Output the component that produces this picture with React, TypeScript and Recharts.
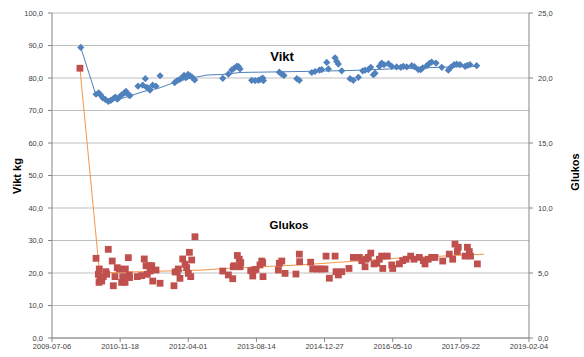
import { ComposedChart, Scatter, XAxis, YAxis, CartesianGrid } from 'recharts';

// dates are Excel day serials (40000 = 2009-07-06)
const dateTicks = ['2009-07-06', '2010-11-18', '2012-04-01', '2013-08-14', '2014-12-27', '2016-05-10', '2017-09-22', '2019-02-04'];
const viktTicks = [0, 10, 20, 30, 40, 50, 60, 70, 80, 90, 100];
const glukosTicks = [0, 5, 10, 15, 20, 25];

const viktDates = [
  40211, 40323, 40343, 40357, 40372, 40391, 40413, 40431, 40450, 40465, 40479, 40494, 40511, 40531, 40543, 40563,
  40572, 40631, 40666, 40685, 40695, 40710, 40719, 40739, 40763, 40793, 40900, 40919, 40939, 40954, 40969, 40983,
  40998, 41013, 41027, 41047, 41253, 41294, 41319, 41336, 41355, 41367, 41380, 41465, 41490, 41514, 41531, 41546,
  41551, 41668, 41686, 41702, 41796, 41815, 41906, 41930, 41962, 41979, 42016, 42028, 42077, 42089, 42101, 42126,
  42187, 42211, 42248, 42280, 42297, 42321, 42339, 42358, 42370, 42402, 42419, 42436, 42468, 42493, 42529, 42559,
  42578, 42603, 42640, 42659, 42688, 42706, 42720, 42750, 42769, 42786, 42818, 42860, 42908, 42926, 42950, 42970,
  42994, 43031, 43048, 43067, 43116,
];
const viktValues = [
  89.4, 75.0, 75.4, 74.8, 73.9, 73.4, 72.8, 73.1, 73.7, 74.1, 73.5, 74.1, 74.8, 75.4, 75.9, 74.8,
  74.6, 77.5, 77.8, 79.8, 77.1, 76.8, 76.3, 77.8, 77.5, 80.7, 78.6, 79.2, 79.6, 80.1, 80.8, 80.1,
  81.1, 80.7, 80.3, 79.4, 79.9, 81.2, 82.5, 83.0, 83.6, 83.6, 82.8, 79.3, 79.2, 79.3, 79.6, 80.0,
  79.2, 81.8, 81.2, 80.8, 79.8, 79.3, 81.7, 82.0, 82.4, 82.6, 84.8, 82.8, 86.2, 85.1, 84.3, 82.2,
  79.8, 79.3, 80.2, 82.2, 82.4, 82.6, 83.3, 81.0, 81.5, 83.6, 84.6, 84.1, 84.4, 83.6, 83.4, 83.3,
  83.6, 83.4, 83.8, 83.5, 82.6, 82.6, 83.1, 83.8, 84.5, 84.9, 84.6, 83.3, 82.4, 83.3, 84.1, 84.3,
  84.1, 83.6, 83.9, 84.1, 83.8,
];

const glukosDates = [
  40205, 40323, 40347, 40340, 40352, 40345, 40365, 40376, 40396, 40413, 40401, 40442, 40450, 40462, 40479, 40494,
  40519, 40511, 40536, 40538, 40560, 40567, 40569, 40626, 40658, 40677, 40690, 40699, 40714, 40732, 40719, 40739,
  40763, 40793, 40895, 40903, 40927, 40919, 40939, 40959, 40976, 40988, 41000, 41008, 41025, 41018, 41049, 41253,
  41294, 41326, 41330, 41336, 41360, 41374, 41385, 41380, 41458, 41473, 41482, 41497, 41526, 41539, 41546, 41548,
  41661, 41668, 41686, 41710, 41790, 41815, 41817, 41898, 41913, 41947, 41972, 42003, 42011, 42035, 42077, 42084,
  42101, 42126, 42179, 42211, 42255, 42273, 42297, 42304, 42321, 42339, 42363, 42383, 42402, 42419, 42427, 42460,
  42493, 42500, 42549, 42573, 42598, 42632, 42656, 42695, 42725, 42737, 42761, 42786, 42810, 42867, 42915, 42940,
  42957, 42981, 42974, 43031, 43048, 43062, 43071, 43121,
];
const glukosValues = [
  20.75, 6.13, 5.31, 4.9, 4.59, 4.28, 4.38, 4.72, 5.1, 6.82, 4.9, 5.92, 4.02, 4.72, 5.41, 5.31,
  4.72, 4.28, 4.28, 5.31, 6.18, 4.85, 4.65, 4.72, 4.8, 6.08, 5.56, 4.9, 5.56, 5.56, 5.15, 4.38,
  5.23, 4.21, 4.02, 5.08, 5.31, 5.1, 4.59, 6.08, 5.67, 5.41, 4.97, 6.59, 6.0, 4.72, 7.79, 5.15,
  4.85, 4.56, 5.48, 5.56, 6.35, 6.06, 5.8, 5.48, 5.18, 4.77, 5.23, 5.28, 5.62, 5.92, 5.8, 4.72,
  5.23, 5.75, 5.92, 4.97, 4.92, 6.45, 5.87, 5.83, 5.31, 5.31, 5.31, 5.31, 6.3, 4.6, 6.3, 5.1,
  4.85, 5.1, 5.35, 6.2, 6.2, 5.95, 5.48, 6.06, 6.2, 6.53, 5.7, 5.75, 6.06, 6.3, 5.35, 6.3,
  5.62, 5.35, 5.7, 5.95, 6.06, 6.3, 6.06, 6.2, 5.95, 5.7, 6.06, 6.2, 6.2, 5.92, 6.45, 6.06,
  7.22, 6.98, 6.65, 6.3, 6.98, 6.65, 6.3, 5.7,
];

// trendlines as drawn in the picture
const viktTrendDates = [40211, 40316, 40364, 40413, 40536, 40668, 40793, 40915, 41037, 41135, 41255, 41380, 41820, 42187, 42554, 42847, 43119];
const viktTrendValues = [89.4, 75.6, 73.8, 72.8, 74.0, 75.8, 77.0, 78.9, 80.1, 80.9, 81.1, 81.7, 82.0, 82.3, 82.9, 83.3, 83.6];
const glukosTrendDates = [40205, 40349, 40572, 41086, 41306, 41820, 42554, 43170];
const glukosTrendValues = [20.75, 5.0, 5.08, 5.22, 5.37, 5.62, 6.15, 6.45];

const toSerial = (iso: string) => Math.round((Date.parse(iso) - Date.UTC(1899, 11, 30)) / 864e5);
const fromSerial = (n: number) => new Date(Date.UTC(1899, 11, 30) + n * 864e5).toISOString().slice(0, 10);
const comma = (v: number) => v.toFixed(1).replace('.', ',');
const pairs = (xs: number[], ys: number[]) => xs.map((x, i) => ({ x, y: ys[i] }));

const viktData = pairs(viktDates, viktValues);
const glukosData = pairs(glukosDates, glukosValues);
const viktTrend = pairs(viktTrendDates, viktTrendValues);
const glukosTrend = pairs(glukosTrendDates, glukosTrendValues);

const BLUE = '#4F81BD';
const RED = '#C0504D';
const ORANGE = '#F79646';
const tickStyle = { fontSize: 7.5, fill: '#404040', fontFamily: 'Liberation Sans, Arial, sans-serif' };

function Diamond(props: any) {
  const { cx, cy } = props;
  const r = 3.6;
  return <polygon points={`${cx},${cy - r} ${cx + r},${cy} ${cx},${cy + r} ${cx - r},${cy}`} fill={BLUE} />;
}

function Square(props: any) {
  const { cx, cy } = props;
  return <rect x={cx - 3.4} y={cy - 3.4} width={6.8} height={6.8} fill={RED} />;
}

const noShape = () => <g />;

export default function App() {
  return (
    <div style={{ position: 'relative', width: 584, height: 357, fontFamily: 'Liberation Sans, Arial, sans-serif' }}>
      <style>{'body{margin:0}'}</style>
      <ComposedChart width={584} height={357} margin={{ top: 13, right: 0, bottom: 0, left: 0 }}>
        <CartesianGrid yAxisId="left" vertical={false} stroke="#BFBFBF" />
        <XAxis
          type="number"
          dataKey="x"
          domain={[toSerial(dateTicks[0]), toSerial(dateTicks[dateTicks.length - 1])]}
          ticks={dateTicks.map(toSerial)}
          tickFormatter={fromSerial}
          interval={0}
          height={19}
          stroke="#868686"
          tick={tickStyle}
          tickSize={4}
          tickMargin={2}
        />
        <YAxis
          yAxisId="left"
          type="number"
          dataKey="y"
          domain={[0, 100]}
          ticks={viktTicks}
          tickFormatter={comma}
          interval={0}
          width={52}
          stroke="#868686"
          tick={tickStyle}
          tickSize={4}
          tickMargin={5}
        />
        <YAxis
          yAxisId="right"
          orientation="right"
          type="number"
          dataKey="y"
          domain={[0, 25]}
          ticks={glukosTicks}
          tickFormatter={comma}
          interval={0}
          width={55}
          stroke="#868686"
          tick={tickStyle}
          tickSize={4}
          tickMargin={5}
        />
        <Scatter yAxisId="left" data={viktTrend} line={{ stroke: BLUE, strokeWidth: 1 }} shape={noShape} isAnimationActive={false} />
        <Scatter yAxisId="right" data={glukosTrend} line={{ stroke: ORANGE, strokeWidth: 1 }} shape={noShape} isAnimationActive={false} />
        <Scatter yAxisId="left" data={viktData} shape={Diamond} isAnimationActive={false} />
        <Scatter yAxisId="right" data={glukosData} shape={Square} isAnimationActive={false} />
      </ComposedChart>
      <div style={{ position: 'absolute', left: 17, top: 176, transform: 'translate(-50%,-50%) rotate(-90deg)', fontSize: 11, fontWeight: 'bold', whiteSpace: 'nowrap', color: '#000' }}>
        Vikt kg
      </div>
      <div style={{ position: 'absolute', left: 575, top: 172, transform: 'translate(-50%,-50%) rotate(-90deg)', fontSize: 11, fontWeight: 'bold', whiteSpace: 'nowrap', color: '#000' }}>
        Glukos
      </div>
      <div style={{ position: 'absolute', left: 282, top: 56, transform: 'translate(-50%,-50%)', fontSize: 13, fontWeight: 'bold', color: '#000' }}>
        Vikt
      </div>
      <div style={{ position: 'absolute', left: 289, top: 225, transform: 'translate(-50%,-50%)', fontSize: 11.5, fontWeight: 'bold', color: '#000' }}>
        Glukos
      </div>
    </div>
  );
}
